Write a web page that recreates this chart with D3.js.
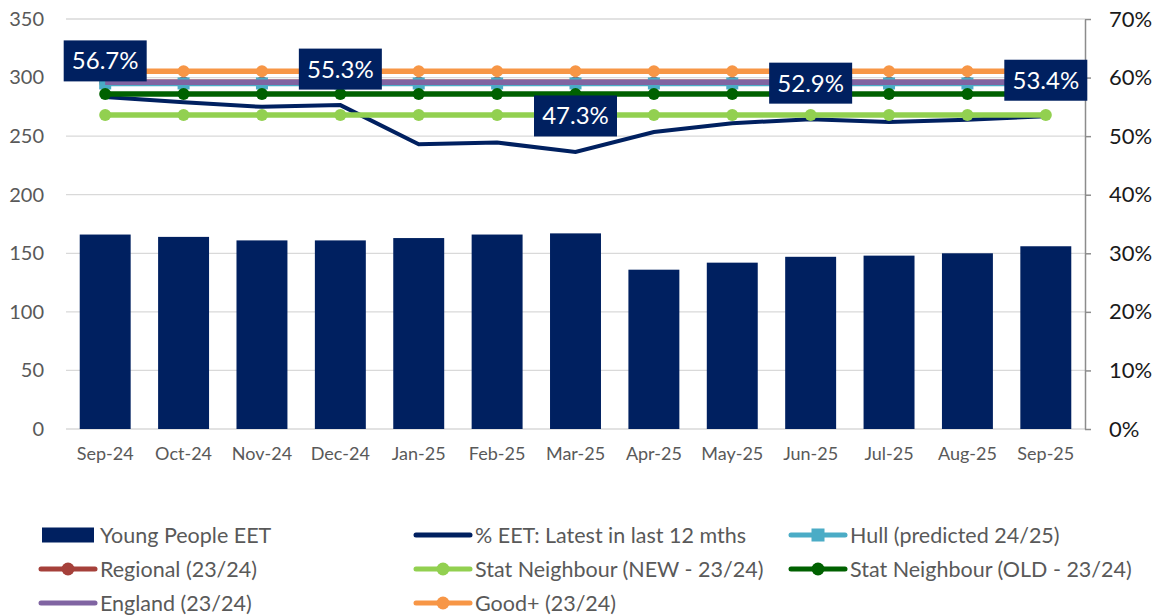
<!DOCTYPE html>
<html><head><meta charset="utf-8">
<script src="https://cdn.jsdelivr.net/npm/d3@7"></script>
<style>
body{margin:0;background:#fff;}
svg{display:block;font-family:Lato,"Open Sans",sans-serif;}
</style></head>
<body><svg id="c" width="1168" height="615"></svg>
<script>
const months = ["Sep-24","Oct-24","Nov-24","Dec-24","Jan-25","Feb-25","Mar-25","Apr-25","May-25","Jun-25","Jul-25","Aug-25","Sep-25"];
const youngPeopleEET = [166,164,161,161,163,166,167,136,142,147,148,150,156];
const pctEET = [56.7,55.8,55.0,55.3,48.6,48.9,47.3,50.7,52.2,52.9,52.4,52.8,53.4];
const hullPredicted = 59.0;
const regional = 59.2;
const statNew = 53.6;
const statOld = 57.2;
const england = 59.2;
const goodPlus = 61.1;
const labelIdx = [0,3,6,9,12];
const leftTicks = [0,50,100,150,200,250,300,350];
const rightTicks = [0,10,20,30,40,50,60,70];

const svg = d3.select("#c");
const L = 66, R = 1085, T = 19, B = 429;
const x = d3.scaleBand().domain(months).range([L,R]).paddingInner(0.35).paddingOuter(0.175);
const yL = d3.scaleLinear().domain([0,350]).range([B,T]);
const yR = d3.scaleLinear().domain([0,70]).range([B,T]);
const cx = m => x(m) + x.bandwidth()/2;

// gridlines
svg.append("g").selectAll("line").data(leftTicks).join("line")
  .attr("x1",L).attr("x2",R).attr("y1",d=>yL(d)).attr("y2",d=>yL(d))
  .attr("stroke","#d9d9d9").attr("stroke-width",1.3);

// left axis labels
const gl = svg.append("g").attr("transform",`translate(${L},0)`)
  .call(d3.axisLeft(yL).tickValues(leftTicks).tickSize(0).tickPadding(22));
gl.select(".domain").remove();
gl.selectAll("text").attr("font-size",20).attr("fill","#595959").style("font-family","Lato");

// right axis
const gr = svg.append("g").attr("transform",`translate(${R},0)`)
  .call(d3.axisRight(yR).tickValues(rightTicks).tickFormat(d=>d+"%").tickSize(6).tickPadding(18).tickSizeOuter(0));
gr.select(".domain").attr("stroke","#8c8c8c").attr("stroke-width",1.5);
gr.selectAll("line").attr("stroke","#8c8c8c").attr("stroke-width",1.5);
gr.selectAll("text").attr("font-size",22).attr("fill","#1a1a1a").style("font-family","Lato");

// x axis labels
const gx = svg.append("g").attr("transform",`translate(0,${B})`)
  .call(d3.axisBottom(x).tickSize(0).tickPadding(18));
gx.select(".domain").remove();
gx.selectAll("text").attr("font-size",18).attr("fill","#595959").style("font-family","Lato");

// bars
svg.append("g").selectAll("rect").data(months).join("rect")
  .attr("x",d=>x(d)).attr("width",x.bandwidth())
  .attr("y",(d,i)=>yL(youngPeopleEET[i])).attr("height",(d,i)=>B-yL(youngPeopleEET[i]))
  .attr("fill","#002060");

function refLine(val,color,marker){
  const data = months.map(m=>({m,v:val}));
  const g = svg.append("g");
  g.append("path").datum(data)
    .attr("d",d3.line().x(d=>cx(d.m)).y(d=>yR(d.v)))
    .attr("fill","none").attr("stroke",color).attr("stroke-width",5.5);
  if(marker==="circle"){
    g.selectAll("circle").data(data).join("circle")
      .attr("cx",d=>cx(d.m)).attr("cy",d=>yR(d.v)).attr("r",6).attr("fill",color);
  } else if(marker==="square"){
    g.selectAll("rect").data(data).join("rect")
      .attr("x",d=>cx(d.m)-6).attr("y",d=>yR(d.v)-6).attr("width",12).attr("height",12).attr("fill",color);
  }
}

// % EET line
svg.append("path").datum(pctEET)
  .attr("d",d3.line().x((d,i)=>cx(months[i])).y(d=>yR(d)))
  .attr("fill","none").attr("stroke","#002060").attr("stroke-width",4);

refLine(regional,"#a5403a","circle");
refLine(hullPredicted,"#4bacc6","square");
refLine(statNew,"#92d050","circle");
refLine(statOld,"#006100","circle");
refLine(england,"#8064a2",null);
refLine(goodPlus,"#f79646","circle");

// data labels
const lg = svg.append("g");
labelIdx.forEach(i=>{
  const px = cx(months[i]), py = yR(pctEET[i]) - 36;
  const t = pctEET[i].toFixed(1)+"%";
  lg.append("rect").attr("x",px-41.5).attr("y",py-20.5).attr("width",83).attr("height",41).attr("fill","#002060");
  lg.append("text").attr("x",px).attr("y",py).attr("dy","0.35em").attr("text-anchor","middle")
    .attr("font-size",24).attr("fill","#fff").style("font-family","Lato").text(t);
});

// legend
const legend = [
  {name:"Young People EET",type:"bar",color:"#002060",col:0,row:0},
  {name:"% EET: Latest in last 12 mths",type:"line",color:"#002060",col:1,row:0},
  {name:"Hull (predicted 24/25)",type:"square",color:"#4bacc6",col:2,row:0},
  {name:"Regional (23/24)",type:"circle",color:"#a5403a",col:0,row:1},
  {name:"Stat Neighbour (NEW - 23/24)",type:"circle",color:"#92d050",col:1,row:1},
  {name:"Stat Neighbour (OLD - 23/24)",type:"circle",color:"#006100",col:2,row:1},
  {name:"England (23/24)",type:"line",color:"#8064a2",col:0,row:2},
  {name:"Good+ (23/24)",type:"circle",color:"#f79646",col:1,row:2}
];
const colX = [40,415,790], rowY = [535,569,603];
legend.forEach(d=>{
  const g = svg.append("g").attr("transform",`translate(${colX[d.col]},${rowY[d.row]})`);
  if(d.type==="bar"){
    g.append("rect").attr("x",2).attr("y",-7.5).attr("width",52).attr("height",15).attr("fill",d.color);
  } else {
    g.append("line").attr("x1",1).attr("x2",55).attr("y1",0).attr("y2",0).attr("stroke",d.color).attr("stroke-width",5).attr("stroke-linecap","round");
    if(d.type==="circle") g.append("circle").attr("cx",28).attr("cy",0).attr("r",6.5).attr("fill",d.color);
    if(d.type==="square") g.append("rect").attr("x",21.5).attr("y",-6.5).attr("width",13).attr("height",13).attr("fill",d.color);
  }
  g.append("text").attr("x",60).attr("y",0).attr("dy","0.35em").attr("font-size",21.5).attr("fill","#595959").style("font-family","Lato").text(d.name);
});
</script></body></html>
